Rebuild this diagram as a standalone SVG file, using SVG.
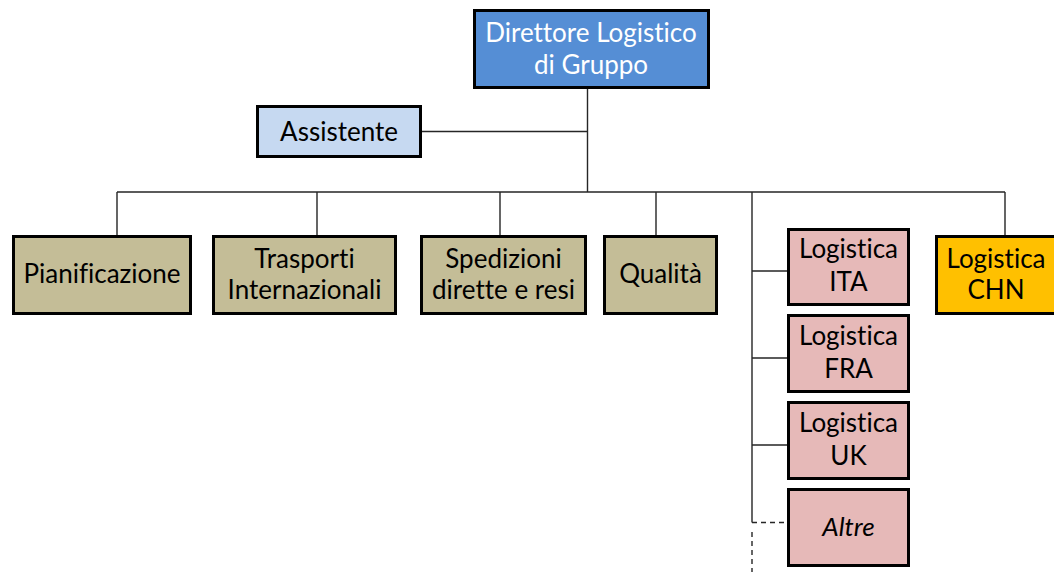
<svg xmlns="http://www.w3.org/2000/svg" width="1054" height="572" viewBox="0 0 1054 572">
  <style>
    .box { stroke: #000; stroke-width: 3; }
    .lbl { font-family: Lato, "Open Sans", sans-serif; font-size: 26px; fill: #000; text-anchor: middle; font-variant-ligatures: none; font-feature-settings: "liga" 0, "clig" 0; }
    .wht { fill: #fff; }
    .ln { stroke: #262626; stroke-width: 1.4; fill: none; }
    .dash { stroke-dasharray: 5 4; }
    .head { fill: #558ED5; }
    .asst { fill: #C6D9F1; }
    .func { fill: #C4BD97; }
    .cty { fill: #E6B9B8; }
    .chn { fill: #FFC000; }
  </style>
  <rect width="1054" height="572" fill="#fff"/>

  <g id="connectors">
    <path class="ln" d="M587.5 89 V192 M422 131.5 H587.5"/>
    <path class="ln" d="M117 192 H1005 M117 192 V235 M317 192 V235 M500 192 V235 M656 192 V235 M1005 192 V235"/>
    <path class="ln" d="M752 192 V522.5 M752 271 H788 M752 358 H788 M752 445 H788"/>
    <path class="ln dash" d="M752 522.5 H788 M752 532 V572"/>
  </g>

  <g id="direttore">
    <rect class="box head" x="474.5" y="10.5" width="234" height="77"/>
    <text class="lbl wht" x="591" y="42">Direttore Logistico</text>
    <text class="lbl wht" x="591" y="74">di Gruppo</text>
  </g>
  <g id="assistente">
    <rect class="box asst" x="257.5" y="106.5" width="163" height="50"/>
    <text class="lbl" x="339" y="141">Assistente</text>
  </g>
  <g id="pianificazione">
    <rect class="box func" x="13.5" y="236.5" width="177" height="77"/>
    <text class="lbl" x="102" y="283">Pianificazione</text>
  </g>
  <g id="trasporti">
    <rect class="box func" x="213.5" y="236.5" width="182" height="77"/>
    <text class="lbl" x="304.5" y="268">Trasporti</text>
    <text class="lbl" x="304.5" y="299">Internazionali</text>
  </g>
  <g id="spedizioni">
    <rect class="box func" x="421.5" y="236.5" width="164" height="77"/>
    <text class="lbl" x="503.5" y="268">Spedizioni</text>
    <text class="lbl" x="503.5" y="299">dirette e resi</text>
  </g>
  <g id="qualita">
    <rect class="box func" x="604.5" y="236.5" width="112" height="77"/>
    <text class="lbl" x="660.5" y="283">Qualità</text>
  </g>
  <g id="logistica-ita">
    <rect class="box cty" x="788.5" y="229.5" width="120" height="75"/>
    <text class="lbl" x="848.5" y="258">Logistica</text>
    <text class="lbl" x="848.5" y="291">ITA</text>
  </g>
  <g id="logistica-fra">
    <rect class="box cty" x="788.5" y="315.5" width="120" height="76"/>
    <text class="lbl" x="848.5" y="345">Logistica</text>
    <text class="lbl" x="848.5" y="378">FRA</text>
  </g>
  <g id="logistica-uk">
    <rect class="box cty" x="788.5" y="402.5" width="120" height="76"/>
    <text class="lbl" x="848.5" y="432">Logistica</text>
    <text class="lbl" x="848.5" y="465">UK</text>
  </g>
  <g id="altre">
    <rect class="box cty" x="788.5" y="489.5" width="120" height="76"/>
    <text class="lbl" x="848.5" y="536" font-style="italic">Altre</text>
  </g>
  <g id="logistica-chn">
    <rect class="box chn" x="936.5" y="236.5" width="130" height="77"/>
    <text class="lbl" x="996" y="268">Logistica</text>
    <text class="lbl" x="996" y="299">CHN</text>
  </g>
</svg>
